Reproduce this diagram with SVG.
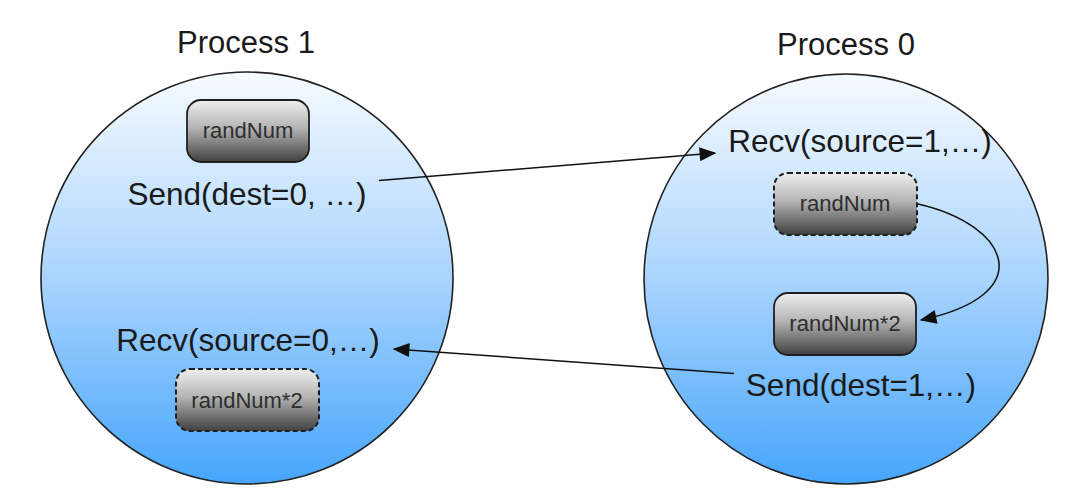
<svg xmlns="http://www.w3.org/2000/svg" width="1090" height="496" viewBox="0 0 1090 496">
  <defs>
    <linearGradient id="circ" x1="0" y1="0" x2="0" y2="1">
      <stop offset="0" stop-color="#f7fbff"/>
      <stop offset="0.5" stop-color="#a9d4fd"/>
      <stop offset="1" stop-color="#46a5fb"/>
    </linearGradient>
    <linearGradient id="box" x1="0" y1="0" x2="0" y2="1">
      <stop offset="0" stop-color="#efefef"/>
      <stop offset="0.45" stop-color="#b4b4b4"/>
      <stop offset="1" stop-color="#404040"/>
    </linearGradient>
    <marker id="arrL" viewBox="0 0 12 10" refX="11" refY="5" markerWidth="18" markerHeight="14" markerUnits="userSpaceOnUse" orient="auto">
      <path d="M0,0 L12,5 L0,10 Z" fill="#111"/>
    </marker>
  </defs>
  <style>
    .proc { fill: url(#circ); stroke: #222; stroke-width: 1.6; }
    .title { font-family: "Liberation Sans", Arial, sans-serif; font-size: 31px; fill: #1a1a1a; text-anchor: middle; }
    .call { font-family: "Liberation Sans", Arial, sans-serif; font-size: 31.5px; fill: #1a1a1a; text-anchor: middle; }
    .box { fill: url(#box); stroke: #1e1e1e; stroke-width: 1.8; }
    .dashed { stroke-dasharray: 5 3; stroke-width: 2; }
    .btxt { font-family: "Liberation Sans", Arial, sans-serif; font-size: 22px; fill: #2e2e2e; text-anchor: middle; }
    .conn { fill: none; stroke: #111; stroke-width: 1.5; marker-end: url(#arrL); }
  </style>
  <rect width="1090" height="496" fill="#ffffff"/>

  <g id="process1">
    <circle class="proc" cx="247" cy="278" r="206"/>
    <text class="title" x="246" y="53">Process 1</text>
  </g>
  <g id="process0">
    <ellipse class="proc" cx="846" cy="279" rx="202" ry="205"/>
    <text class="title" x="846" y="55">Process 0</text>
  </g>

  <g id="p1-randNum">
    <rect class="box" x="187" y="100" width="122" height="62" rx="14"/>
    <text class="btxt" x="248" y="138">randNum</text>
  </g>
  <g id="p1-send">
    <text class="call" x="247" y="205">Send(dest=0, …)</text>
  </g>
  <g id="p1-recv">
    <text class="call" x="248" y="351">Recv(source=0,…)</text>
  </g>
  <g id="p1-randNum2">
    <rect class="box dashed" x="176" y="369" width="143" height="62" rx="14"/>
    <text class="btxt" x="247" y="408">randNum*2</text>
  </g>

  <g id="p0-recv">
    <text class="call" x="860" y="152">Recv(source=1,…)</text>
  </g>
  <g id="p0-randNum">
    <rect class="box dashed" x="774" y="173" width="143" height="62" rx="14"/>
    <text class="btxt" x="845" y="211">randNum</text>
  </g>
  <g id="p0-randNum2">
    <rect class="box" x="774" y="293" width="142" height="62" rx="14"/>
    <text class="btxt" x="845" y="331">randNum*2</text>
  </g>
  <g id="p0-send">
    <text class="call" x="861" y="396">Send(dest=1,…)</text>
  </g>

  <g id="connectors">
    <path class="conn" d="M379,180.5 L715,153"/>
    <path class="conn" d="M734,373.5 L394,349"/>
    <path class="conn" d="M918,204 C1010,225 1040,295 921,320"/>
  </g>
</svg>
